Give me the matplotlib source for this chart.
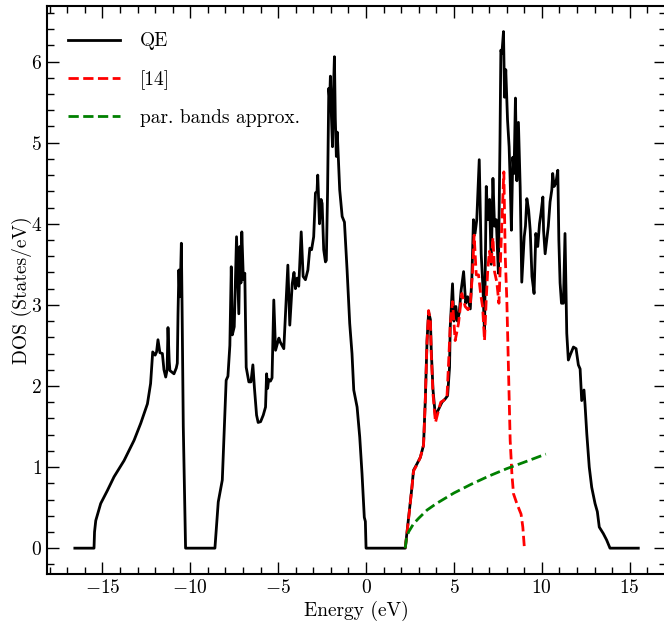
import matplotlib
matplotlib.use("Agg")
import matplotlib.pyplot as plt
from matplotlib.ticker import MultipleLocator

plt.rcParams['font.family'] = ['cmr10']
plt.rcParams['mathtext.fontset'] = 'cm'
plt.rcParams['axes.formatter.use_mathtext'] = True
plt.rcParams['font.size'] = 14

# QE density of states
qe_energy = [
    -16.57, -15.48, -15.45, -15.38, -15.10, -14.72, -14.34, -13.77, -13.20, -12.82,
    -12.44, -12.26, -12.14, -12.0, -11.92, -11.84, -11.73, -11.59, -11.50, -11.40,
    -11.32, -11.27, -11.20, -11.16, -10.93, -10.80, -10.74, -10.70, -10.65, -10.60,
    -10.55, -10.51, -10.47, -10.40, -10.27, -8.60, -8.50, -8.41, -8.18, -8.09,
    -7.96, -7.86, -7.75, -7.67, -7.61, -7.50, -7.37, -7.24, -7.18, -7.12,
    -7.07, -6.98, -6.90, -6.82, -6.67, -6.55, -6.44, -6.35, -6.23, -6.14,
    -6.00, -5.85, -5.72, -5.66, -5.60, -5.54, -5.44, -5.35, -5.25, -5.15,
    -4.96, -4.88, -4.68, -4.45, -4.34, -4.20, -4.10, -4.02, -3.92, -3.83,
    -3.69, -3.58, -3.45, -3.31, -3.20, -3.10, -2.98, -2.88, -2.79, -2.75,
    -2.65, -2.56, -2.50, -2.41, -2.31, -2.26, -2.19, -2.12, -2.07, -2.03,
    -1.97, -1.91, -1.86, -1.80, -1.75, -1.69, -1.64, -1.58, -1.50, -1.36,
    -1.23, -1.08, -0.93, -0.80, -0.70, -0.51, -0.36, -0.23, -0.10, -0.04,
    0.0, 2.23, 2.42, 2.61, 2.70, 2.90, 3.09, 3.27, 3.37, 3.47,
    3.56, 3.66, 3.71, 3.81, 3.94, 4.10, 4.32, 4.50, 4.64, 4.75,
    4.79, 4.92, 5.00, 5.11, 5.20, 5.30, 5.41, 5.55, 5.67, 5.78,
    5.93, 6.02, 6.11, 6.20, 6.30, 6.44, 6.55, 6.65, 6.74, 6.84,
    6.93, 7.03, 7.12, 7.22, 7.31, 7.41, 7.53, 7.62, 7.67, 7.73,
    7.82, 7.88, 7.95, 8.05, 8.14, 8.20, 8.27, 8.35, 8.42, 8.50,
    8.58, 8.67, 8.77, 8.86, 9.00, 9.07, 9.15, 9.25, 9.34, 9.44,
    9.56, 9.66, 9.77, 9.87, 9.96, 10.06, 10.10, 10.19, 10.28, 10.37,
    10.47, 10.57, 10.62, 10.70, 10.80, 10.91, 10.97, 11.04, 11.12, 11.23,
    11.32, 11.42, 11.51, 11.63, 11.80, 11.95, 12.08, 12.18, 12.27, 12.40,
    12.46, 12.56, 12.70, 12.84, 13.03, 13.16, 13.27, 13.50, 13.69, 13.88,
    15.49,
]
qe_dos = [
    0.0, 0.0, 0.20, 0.34, 0.55, 0.71, 0.88, 1.08, 1.33, 1.54,
    1.78, 2.03, 2.42, 2.38, 2.42, 2.57, 2.41, 2.40, 2.20, 2.11,
    2.20, 2.72, 2.30, 2.19, 2.15, 2.22, 2.28, 2.89, 3.43, 3.10,
    3.40, 3.76, 3.00, 1.50, 0.0, 0.0, 0.30, 0.57, 0.84, 1.33,
    2.07, 2.12, 2.50, 3.47, 2.63, 2.73, 3.84, 2.89, 3.72, 3.27,
    3.90, 3.31, 3.39, 2.23, 2.05, 2.05, 2.26, 1.97, 1.64, 1.55,
    1.56, 1.64, 1.74, 2.15, 1.97, 2.08, 2.06, 2.10, 3.06, 2.44,
    2.59, 2.54, 2.46, 3.49, 2.75, 3.26, 3.40, 3.20, 3.33, 3.23,
    3.90, 3.35, 3.31, 3.43, 3.70, 3.68, 3.84, 4.38, 4.40, 4.60,
    4.00, 4.30, 4.25, 3.68, 3.53, 3.55, 4.40, 5.67, 5.53, 5.82,
    5.32, 4.95, 5.60, 6.06, 5.30, 4.83, 5.13, 4.83, 4.42, 4.09,
    4.02, 3.43, 2.77, 2.40, 1.95, 1.74, 1.37, 0.92, 0.38, 0.33,
    0.0, 0.0, 0.38, 0.75, 0.96, 1.04, 1.12, 1.27, 1.82, 2.56,
    2.91, 2.82, 2.44, 1.95, 1.64, 1.70, 1.80, 1.84, 1.88, 2.23,
    2.73, 3.26, 2.80, 2.98, 2.80, 2.90, 3.18, 3.41, 3.02, 3.10,
    2.95, 3.33, 4.05, 3.88, 4.05, 4.79, 3.63, 3.22, 2.65, 4.46,
    4.05, 4.30, 3.50, 4.56, 3.97, 4.05, 3.39, 5.00, 6.14, 6.10,
    6.37, 5.56, 5.90, 5.28, 4.95, 4.53, 3.92, 4.82, 4.62, 5.55,
    4.53, 5.25, 4.45, 3.28, 3.84, 3.97, 4.31, 4.17, 3.92, 3.35,
    3.14, 3.88, 3.72, 4.00, 4.14, 4.33, 3.92, 3.63, 3.80, 3.97,
    4.27, 4.42, 4.62, 4.46, 4.50, 4.66, 3.80, 3.27, 3.02, 3.02,
    3.88, 2.65, 2.32, 2.39, 2.48, 2.46, 2.26, 2.21, 1.82, 1.95,
    1.77, 1.41, 1.00, 0.75, 0.55, 0.45, 0.26, 0.18, 0.10, 0.0,
    0.0,
]

# reference [14]
ref_energy = [
    2.23, 2.42, 2.61, 2.70, 2.90, 3.09, 3.27, 3.37, 3.47, 3.56,
    3.66, 3.71, 3.81, 3.95, 4.10, 4.25, 4.40, 4.60, 4.70, 4.79,
    4.92, 5.07, 5.26, 5.45, 5.64, 5.80, 5.93, 6.06, 6.15, 6.27,
    6.40, 6.53, 6.63, 6.74, 6.84, 6.93, 7.02, 7.12, 7.22, 7.31,
    7.44, 7.56, 7.69, 7.76, 7.84, 7.92, 8.01, 8.20, 8.30, 8.39,
    8.58, 8.82, 8.92, 9.01,
]
ref_dos = [
    0.0, 0.36, 0.75, 0.95, 1.03, 1.12, 1.27, 1.82, 2.56, 2.93,
    2.80, 2.40, 1.90, 1.55, 1.68, 1.80, 1.82, 1.85, 2.30, 2.75,
    3.04, 2.56, 2.77, 3.14, 2.98, 2.94, 3.00, 3.41, 3.86, 3.37,
    3.37, 3.12, 2.98, 2.56, 3.08, 3.45, 3.66, 3.50, 3.83, 3.41,
    3.28, 3.02, 3.80, 4.20, 4.64, 3.60, 3.06, 1.33, 0.91, 0.67,
    0.55, 0.42, 0.26, 0.0,
]

# parabolic bands approximation
par_energy = [2.23, 2.30, 2.42, 2.70, 3.00, 3.47, 4.00, 5.00, 6.00, 7.00, 8.00, 9.00, 10.23]
par_dos = [0.0, 0.12, 0.20, 0.30, 0.37, 0.47, 0.55, 0.68, 0.79, 0.89, 0.98, 1.06, 1.16]

fig = plt.figure(figsize=(6.64, 6.30), dpi=100)
ax = fig.add_axes([0.0703, 0.0889, 0.9334, 0.902])

ax.plot(qe_energy, qe_dos, color='black', linewidth=2.0, label='QE')
ax.plot(ref_energy, ref_dos, color='red', linestyle='--', linewidth=2.0, label='[14]')
ax.plot(par_energy, par_dos, color='green', linestyle='--', linewidth=2.0,
        label='par. bands approx.')

ax.set_xlabel('Energy (eV)', labelpad=3)
ax.set_ylabel('DOS (States/eV)', labelpad=-1)

ax.xaxis.set_major_locator(MultipleLocator(5))
ax.xaxis.set_minor_locator(MultipleLocator(1))
ax.yaxis.set_major_locator(MultipleLocator(1))
ax.yaxis.set_minor_locator(MultipleLocator(0.2))
ax.tick_params(which='both', direction='in', top=True, right=True, width=1.0)
ax.tick_params(which='major', length=8.5, labelsize=14)
ax.tick_params(which='minor', length=5)
for sp in ax.spines.values():
    sp.set_linewidth(1.5)

ax.legend(loc='upper left', bbox_to_anchor=(0.0065, 0.984), frameon=False,
          fontsize=14, handlelength=2.67, handletextpad=1.0, labelspacing=1.0)

fig.savefig('out.png', dpi=100, facecolor='white')
